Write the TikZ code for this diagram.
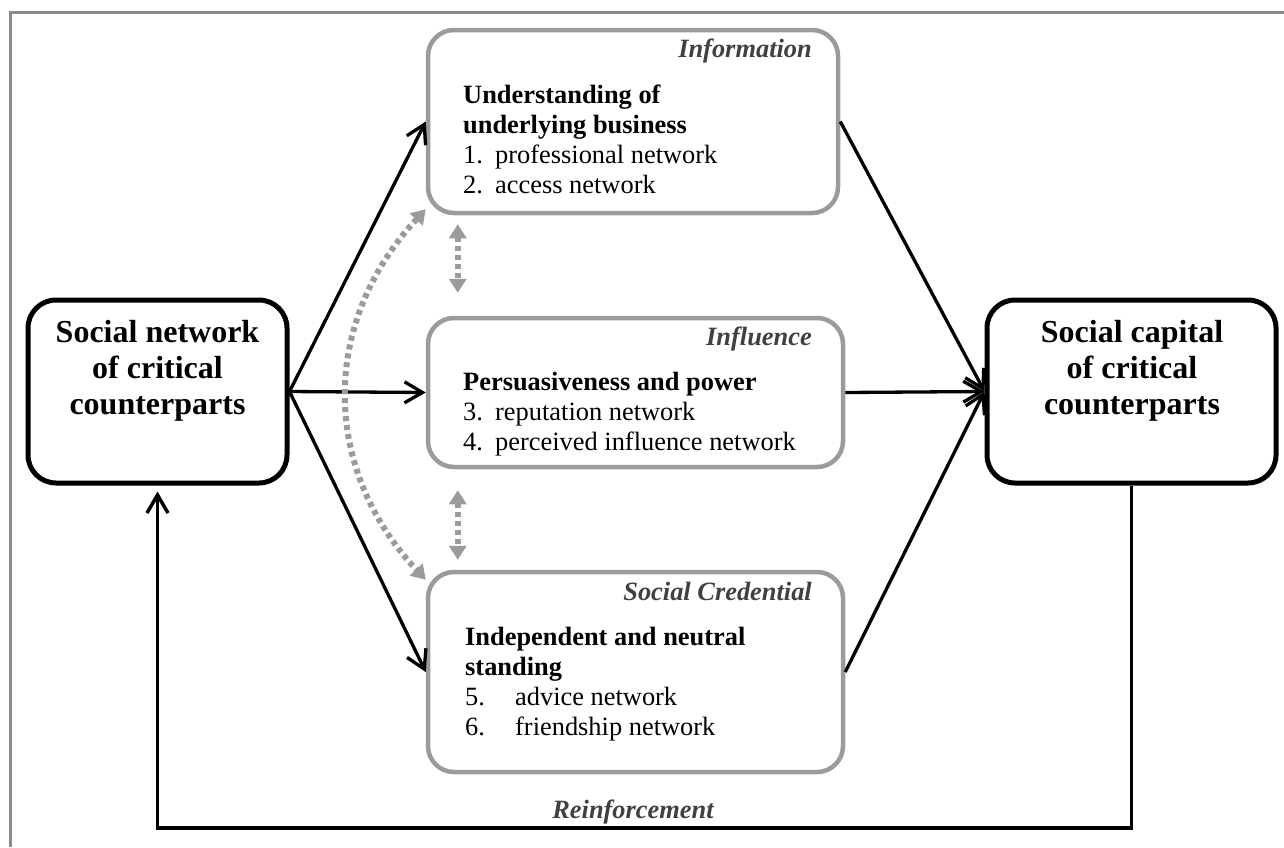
\documentclass[tikz,border=0pt]{standalone}
\usepackage{fontspec}
\setmainfont{Liberation Serif}
\usetikzlibrary{arrows.meta}
\definecolor{boxgray}{RGB}{155,155,155}
\definecolor{labgray}{RGB}{64,64,64}
\definecolor{framegray}{RGB}{140,140,140}
\newcommand{\bodyfont}{\fontsize{26.4}{30}\selectfont}
\newcommand{\bigfont}{\fontsize{32}{36}\selectfont\bfseries}
\tikzset{
	graybox/.style={draw=boxgray, line width=4.5pt, rounded corners=26pt, inner sep=0pt},
	blackbox/.style={draw=black, line width=5pt, rounded corners=28pt, inner sep=0pt},
	tag/.style={font=\bodyfont\bfseries\itshape, text=labgray, inner sep=0pt, anchor=base east},
	body/.style={font=\bodyfont, inner sep=0pt, anchor=base west},
	title/.style={font=\bigfont, inner sep=0pt, anchor=base},
	flow/.style={line width=3.3pt, -{Straight Barb[length=18pt,width=21pt]}},
	link/.style={draw=boxgray, line width=6pt, dash pattern=on 5pt off 4pt, {Triangle[length=14pt,width=17pt]}-{Triangle[length=14pt,width=17pt]}}
}
\begin{document}
\begin{tikzpicture}[x=1pt, y=-1pt]
	\useasboundingbox (0, 0) rectangle (1284, 847);
	\draw[framegray, line width=3pt] (1284, 12) -- (10, 12) -- (10, 847);

	\node[blackbox, minimum width=259, minimum height=183] (snet) at (157.5, 391.5) {};
	\node[blackbox, minimum width=289, minimum height=183] (scap) at (1131.5, 391.5) {};
	\node[graybox, minimum width=410, minimum height=183] (info) at (633, 121.5) {};
	\node[graybox, minimum width=415, minimum height=149] (infl) at (635.5, 392.5) {};
	\node[graybox, minimum width=415, minimum height=200] (cred) at (635.5, 672) {};

	\node[title] (snettext) at (157.5, 342) {\begin{tabular}[t]{@{}c@{}}Social network\\of critical\\counterparts\end{tabular}};
	\node[title] (scaptext) at (1132, 342) {\begin{tabular}[t]{@{}c@{}}Social capital\\of critical\\counterparts\end{tabular}};

	\node[tag] (infotag) at (812, 57) {Information};
	\node[tag] (infltag) at (812, 345) {Influence};
	\node[tag] (credtag) at (812, 600) {Social Credential};

	\node[body] (infotext) at (463, 103) {\begin{tabular}[t]{@{}l@{}}\textbf{Understanding of}\\\textbf{underlying business}\\\makebox[32pt][l]{1.}professional network\\\makebox[32pt][l]{2.}access network\end{tabular}};
	\node[body] (infltext) at (463, 390) {\begin{tabular}[t]{@{}l@{}}\textbf{Persuasiveness and power}\\\makebox[32pt][l]{3.}reputation network\\\makebox[32pt][l]{4.}perceived influence network\end{tabular}};
	\node[body] (credtext) at (465, 645) {\begin{tabular}[t]{@{}l@{}}\textbf{Independent and neutral}\\\textbf{standing}\\\makebox[50pt][l]{5.}advice network\\\makebox[50pt][l]{6.}friendship network\end{tabular}};

	\draw[flow] (snet.east) -- (info.west);
	\draw[flow] (snet.east) -- (infl.west);
	\draw[flow] (snet.east) -- (cred.west);
	\draw[flow] (info.east) -- (scap.west);
	\draw[flow] (infl.east) -- (scap.west);
	\draw[flow] (cred.east) -- (scap.west);

	\draw[link, shorten <=9pt, shorten >=23pt] ([xshift=32pt]info.south west) -- ([xshift=32pt]infl.north west);
	\draw[link, shorten <=21pt, shorten >=10pt] ([xshift=32pt]infl.south west) -- ([xshift=32pt]cred.north west);
	\draw[link] ([yshift=6pt]info.south west) .. controls +(-105, 113) and +(-105, -112) .. ([yshift=-10pt]cred.north west);

	\coordinate (rcorner) at (157.5, 828);
	\draw[line width=3.5pt, -{Straight Barb[length=18pt,width=21pt]}, shorten >=6pt] (scap.south) |- (rcorner) -- (snet.south);
	\node[tag, anchor=base] (reinf) at (633, 818) {Reinforcement};
\end{tikzpicture}
\end{document}
